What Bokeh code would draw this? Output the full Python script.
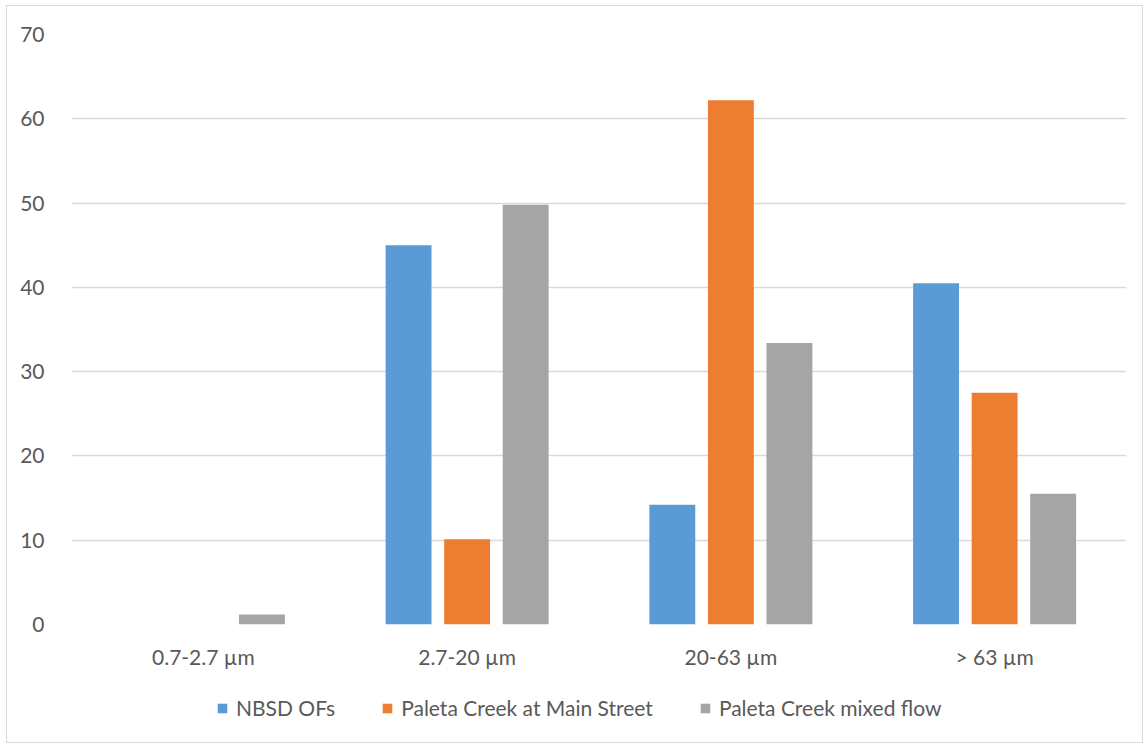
from bokeh.plotting import figure
from bokeh.layouts import column
from bokeh.models import FactorRange, ColumnDataSource, Legend, LegendItem, Range1d
from bokeh.transform import dodge
from bokeh.embed import file_html
from bokeh.resources import INLINE

# Particle size fractions and the share (%) in each, per sampling location
size_classes = ["0.7-2.7 µm", "2.7-20 µm", "20-63 µm", "> 63 µm"]
nbsd_ofs = [0.0, 45.0, 14.2, 40.5]
paleta_main_street = [0.0, 10.1, 62.2, 27.5]
paleta_mixed_flow = [1.2, 49.8, 33.4, 15.5]
series_names = ["NBSD OFs", "Paleta Creek at Main Street", "Paleta Creek mixed flow"]
y_ticks = [0, 10, 20, 30, 40, 50, 60, 70]

colors = ["#5B9BD5", "#ED7D31", "#A5A5A5"]
FONT = "Lato"
FONT_SIZE = "21px"
TEXT_COLOR = "#595959"
GRID_COLOR = "#D9D9D9"

source = ColumnDataSource(dict(
    size=size_classes,
    nbsd=nbsd_ofs,
    main=paleta_main_street,
    mixed=paleta_mixed_flow,
))

p = figure(
    x_range=FactorRange(*size_classes, range_padding=0),
    y_range=(0, 70),
    width=1135, height=674,
    output_backend="svg",
    toolbar_location=None,
    min_border_left=64, min_border_right=16,
    min_border_top=28, min_border_bottom=56,
)
p.outline_line_color = None
p.background_fill_color = "white"
p.border_fill_color = "white"

bar_w = 0.174
step = 0.222
for col, off, c in zip(["nbsd", "main", "mixed"], [-step, 0, step], colors):
    p.vbar(x=dodge("size", off, range=p.x_range), top=col, width=bar_w,
           source=source, fill_color=c, line_color=None)

# axes
p.yaxis.ticker = y_ticks
p.yaxis.axis_line_color = None
p.yaxis.major_tick_line_color = None
p.yaxis.minor_tick_line_color = None
p.yaxis.major_label_text_font = FONT
p.yaxis.major_label_text_font_size = FONT_SIZE
p.yaxis.major_label_text_color = TEXT_COLOR
p.yaxis.major_label_standoff = 21

p.xaxis.axis_line_color = None
p.xaxis.major_tick_line_color = None
p.xaxis.major_label_text_font = FONT
p.xaxis.major_label_text_font_size = FONT_SIZE
p.xaxis.major_label_text_color = TEXT_COLOR
p.xaxis.major_label_standoff = 13

p.xgrid.grid_line_color = None
p.ygrid.grid_line_color = GRID_COLOR
p.ygrid.grid_line_width = 1.5

# legend strip under the chart: its own small canvas; the swatch renderers
# are zero-height bars, so only their legend entries show
lg = figure(
    width=1135, height=62,
    x_range=Range1d(0, 1), y_range=Range1d(0, 1),
    x_axis_type=None, y_axis_type=None,
    output_backend="svg",
    toolbar_location=None,
    min_border=0,
)
lg.outline_line_color = None
lg.grid.grid_line_color = None
swatches = []
for c in colors:
    swatches.append(lg.vbar(x=[0.5], top=[0], bottom=[0], width=0.1,
                            fill_color=c, line_color=None))

# the column aligns this frame with the chart frame (left edge at 64 px)
legend = Legend(
    items=[LegendItem(label=n, renderers=[r], index=0) for n, r in zip(series_names, swatches)],
    orientation="horizontal",
    location=(145, 22),
    border_line_color=None,
    background_fill_alpha=0,
    label_text_font=FONT,
    label_text_font_size=FONT_SIZE,
    label_text_color=TEXT_COLOR,
    glyph_width=12, glyph_height=12,
    label_standoff=8,
    spacing=46,
    padding=0,
    margin=0,
)
lg.add_layout(legend, "center")

layout = column(p, lg, spacing=0, margin=(5, 0, 0, 6),
                styles={"border": "1px solid #D9D9D9"})

open("out.html", "w").write(file_html(layout, INLINE))
